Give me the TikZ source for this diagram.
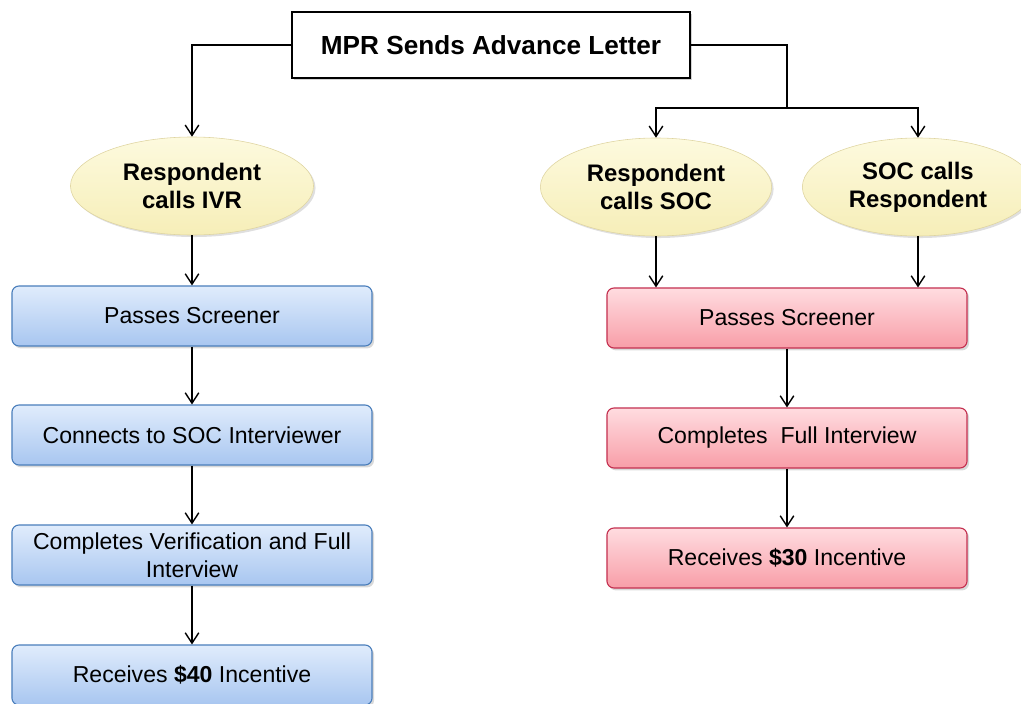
\documentclass[tikz,border=0pt]{standalone}
\usepackage{fontspec}
\setmainfont{Liberation Sans}
\usetikzlibrary{positioning, shapes.geometric, arrows.meta, shadows}

\definecolor{ivrblue}{RGB}{74,126,187}
\definecolor{bluetop}{RGB}{224,236,252}
\definecolor{bluebot}{RGB}{168,198,240}
\definecolor{socred}{RGB}{196,48,80}
\definecolor{redtop}{RGB}{255,220,224}
\definecolor{redbot}{RGB}{248,158,168}
\definecolor{ovaltop}{RGB}{253,250,222}
\definecolor{ovalbot}{RGB}{246,238,184}
\definecolor{ovalline}{RGB}{222,212,160}

\tikzset{
  titlebox/.style={draw, line width=1.3pt, fill=white, minimum width=9.95cm, minimum height=1.65cm,
    font=\fontsize{18.6}{22}\selectfont\bfseries, drop shadow={shadow xshift=0.6mm, shadow yshift=-0.6mm, opacity=0.35}},
  callout/.style={ellipse, draw=ovalline, top color=ovaltop, bottom color=ovalbot, minimum width=6.075cm,
    minimum height=2.45cm, align=center, font=\fontsize{17}{19.8}\selectfont\bfseries,
    drop shadow={shadow xshift=0.5mm, shadow yshift=-0.5mm, opacity=0.25}},
  narrowcallout/.style={callout, minimum width=5.78cm, inner sep=0pt},
  ivrstep/.style={draw=ivrblue, line width=0.8pt, rounded corners=5pt, top color=bluetop, bottom color=bluebot,
    minimum width=9cm, minimum height=1.5cm, align=center, font=\fontsize{16.4}{19.8}\selectfont,
    drop shadow={shadow xshift=0.5mm, shadow yshift=-0.6mm, opacity=0.3}},
  socstep/.style={ivrstep, draw=socred, top color=redtop, bottom color=redbot},
  flow/.style={line width=1pt, -{Straight Barb[length=2.6mm, width=3.4mm, line width=1pt]}}
}

\begin{document}
\begin{tikzpicture}[x=0.025cm, y=-0.025cm]
    \useasboundingbox (0,0) rectangle (1021,704);
    % top of the tree
    \node[titlebox] (letter) at (491,45) {MPR Sends Advance Letter};
    \coordinate (split) at (787,108);
    % ways of getting in touch
    \node[callout] (ivr) at (192,186) {Respondent\\calls IVR};
    \node[narrowcallout] (soc) at (656,187) {Respondent\\calls SOC};
    \node[narrowcallout] (socr) at (918,187) {SOC calls\\Respondent};
    % IVR path
    \node[ivrstep] (ivr1) at (192,316) {Passes Screener};
    \node[ivrstep] (ivr2) at (192,435) {Connects to SOC Interviewer};
    \node[ivrstep] (ivr3) at (192,555) {Completes Verification and Full\\Interview};
    \node[ivrstep] (ivr4) at (192,675) {Receives \textbf{\$40} Incentive};
    % SOC path
    \node[socstep] (soc1) at (787,318) {Passes Screener};
    \node[socstep] (soc2) at (787,438) {Completes\ \ Full Interview};
    \node[socstep] (soc3) at (787,558) {Receives \textbf{\$30} Incentive};
    % connectors
    \draw[flow] (letter.west) -| (ivr.north);
    \draw[line width=1pt] (letter.east) -| (split);
    \draw[flow] (split) -| (soc.north);
    \draw[flow] (split) -| (socr.north);
    \draw[flow] (ivr.south) -- (ivr1.north);
    \draw[flow] (ivr1) -- (ivr2);
    \draw[flow] (ivr2) -- (ivr3);
    \draw[flow] (ivr3) -- (ivr4);
    \draw[flow] (soc.south) -- (soc.south |- soc1.north);
    \draw[flow] (socr.south) -- (socr.south |- soc1.north);
    \draw[flow] (soc1) -- (soc2);
    \draw[flow] (soc2) -- (soc3);
\end{tikzpicture}
\end{document}
